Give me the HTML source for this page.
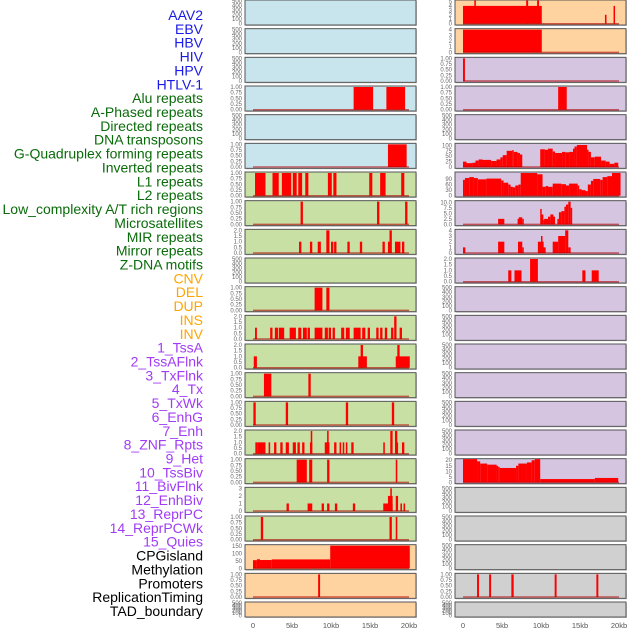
<!DOCTYPE html>
<html><head><meta charset="utf-8">
<style>
html,body{margin:0;padding:0;background:#fff;}
svg{display:block;font-family:"Liberation Sans",sans-serif;}
</style></head>
<body>
<svg id="chart" width="630" height="630" viewBox="0 0 630 630" xmlns="http://www.w3.org/2000/svg"></svg>
<script>
// ---- labels ----
const labelNames = ["AAV2","EBV","HBV","HIV","HPV","HTLV-1","Alu repeats","A-Phased repeats","Directed repeats","DNA transposons","G-Quadruplex forming repeats","Inverted repeats","L1 repeats","L2 repeats","Low_complexity A/T rich regions","Microsatellites","MIR repeats","Mirror repeats","Z-DNA motifs","CNV","DEL","DUP","INS","INV","1_TssA","2_TssAFlnk","3_TxFlnk","4_Tx","5_TxWk","6_EnhG","7_Enh","8_ZNF_Rpts","9_Het","10_TssBiv","11_BivFlnk","12_EnhBiv","13_ReprPC","14_ReprPCWk","15_Quies","CPGisland","Methylation","Promoters","ReplicationTiming","TAD_boundary"];
const labelGroups = [6,13,5,15,5];
const groupColors = ["#1a1ae6","#0a6b0a","#ffa500","#a03cf5","#000000"];

// ---- x axis ----
const xTicks = [0,5,10,15,20];
const xTickLabels = ["0","5kb","10kb","15kb","20kb"];

// ---- y tick sets ----
const tEmpty = [0,100,200,300,400,500];
const t01 = [0,0.25,0.5,0.75,1];
const t01Lab = ["0.00","0.25","0.50","0.75","1.00"];
const t02 = [0,0.5,1,1.5,2];
const t02Lab = ["0.0","0.5","1.0","1.5","2.0"];
const t03 = [0,1,2,3];
const t04 = [0,1,2,3,4];
const t05 = [0,1,2,3,4,5];
const t100 = [0,25,50,75,100];
const t90 = [0,30,60,90];
const t10 = [0,2.5,5,7.5,10];
const t10Lab = ["0.0","2.5","5.0","7.5","10.0"];
const t20 = [0,5,10,15,20];
const t150 = [0,50,100,150];

// ---- left column data: [startKb, endKb, value] ----
const L3 = [[12.9,15.4,1],[17.1,19.5,1]];
const L5 = [[17.3,19.7,1]];
const L6 = [[0.26,1.6,1],[2.5,3.3,1],[3.7,4.9,1],[5.1,5.6,1],[5.8,6.3,1],[6.7,7.1,1],[9.6,10.1,1],[10.3,10.7,1],[14.9,15.3,1],[16.3,17.0,1],[19.0,19.4,1]];
const L7 = [[6.1,6.4,1],[15.9,16.2,1],[19.5,19.8,1]];
const L8 = [[5.9,6.2,1],[7.3,7.6,1],[8.3,8.7,1],[9.4,9.8,2],[10.0,10.3,1],[10.4,10.7,1],[12.1,12.4,1],[13.7,14.0,1],[16.6,16.9,1],[17.3,17.7,1],[17.5,17.8,2],[18.2,18.9,1],[19.1,19.4,1]];
const L10 = [[7.9,8.9,1],[9.4,9.8,1]];
const L11 = [[0.26,0.5,1],[2.2,2.5,1],[2.8,3.2,1],[3.3,4.0,1],[4.7,5.5,1],[5.8,6.2,1],[6.4,6.9,1],[7.0,7.3,1],[7.9,8.9,1],[9.2,9.6,1],[9.7,10.0,1],[10.2,10.5,1],[11.3,11.7,1],[11.9,12.4,1],[12.9,13.8,1],[14.0,14.4,1],[14.7,15.0,1],[15.8,16.1,1],[16.3,16.6,1],[16.9,17.2,1],[17.7,18.0,1],[18.1,18.4,2],[18.8,19.1,1]];
const L12 = [[0.1,0.5,1],[13.5,14.6,1],[13.8,14.1,2],[18.3,20.1,1],[18.5,18.8,2]];
const L13 = [[1.4,2.35,1],[7.1,7.4,1]];
const L14 = [[0.05,0.35,1],[4.2,4.5,1],[11.9,12.2,1],[17.8,18.1,1]];
const L15 = [[0.3,0.6,1],[0.6,1.6,1],[2.0,2.2,1],[2.7,3.0,1],[3.5,3.8,1],[4.2,4.6,1],[5.1,5.5,1],[5.7,6.0,1],[6.3,6.6,1],[7.3,7.6,1],[7.4,7.6,2],[9.2,9.8,1],[9.5,9.7,2],[10.4,10.7,1],[11.1,11.3,1],[11.5,11.7,1],[11.9,12.1,1],[12.6,12.9,1],[16.7,16.9,1],[17.6,17.9,2],[18.2,18.5,2],[18.3,18.6,1],[19.1,19.4,1]];
const L16 = [[5.6,6.9,1],[7.2,7.6,1],[9.5,9.8,1],[18.3,18.5,1]];
const L17 = [[4.3,4.6,1],[7.0,7.6,1],[8.8,9.1,1],[9.5,9.8,1],[10.5,10.8,1],[12.8,13.1,1],[16.7,17.9,1],[17.3,17.9,2],[17.6,17.8,3],[18.3,18.6,2],[18.9,19.1,1],[19.3,19.5,1]];
const L18 = [[1.0,1.3,1],[17.5,17.8,1],[18.3,18.5,1]];
const L19 = [[0,0.5,55],[0.5,0.9,61],[0.9,2.4,56],[2.4,9.9,60],[9.9,20.1,152]];
const L20 = [[8.35,8.6,1]];

// ---- right column data ----
const R0 = [[0,10.1,4],[1.45,1.65,5.2],[8.1,8.35,5.2],[9.5,9.75,5.2],[18.2,18.4,2],[19.3,19.45,4]];
const R1 = [[0,10.1,4]];
const R2 = [[0,0.25,1]];
const R3 = [[12.2,13.3,1]];
const R5 = [[0,0.45,25],[0.45,1.2,18],[1.2,1.6,20],[1.6,2.0,30],[2.0,2.5,35],[2.5,3.6,33],[3.6,4.3,28],[4.3,4.8,35],[4.8,5.1,45],[5.1,5.6,55],[5.6,6.3,75],[6.3,6.5,78],[6.5,7.0,70],[7.0,7.3,65],[7.3,7.6,58],[9.9,10.5,82],[10.5,10.9,80],[10.9,11.5,85],[11.5,11.8,72],[11.8,12.7,65],[12.7,13.1,70],[13.1,13.6,68],[13.6,14.1,70],[14.1,14.3,85],[14.3,14.6,95],[14.6,15.9,102],[15.9,16.1,80],[16.1,16.4,70],[16.4,16.9,45],[16.9,17.7,48],[17.7,18.3,30],[18.3,18.8,25],[18.8,19.4,15],[19.4,19.9,20]];
const R6 = [[0,0.25,85],[0.25,0.8,95],[0.8,1.4,100],[1.4,1.9,95],[1.9,3.0,88],[3.0,4.9,92],[4.9,5.2,82],[5.2,5.8,70],[5.8,6.1,60],[6.1,6.4,48],[6.4,6.7,45],[6.7,7.1,55],[7.1,7.4,60],[7.4,9.5,122],[9.5,10.2,115],[10.2,10.6,48],[10.6,10.9,52],[10.9,11.5,48],[11.5,12.6,65],[12.6,13.2,62],[13.2,13.6,55],[13.6,14.7,65],[14.7,14.9,55],[14.9,15.2,35],[15.2,15.7,30],[15.7,16.0,25],[16.0,16.4,60],[16.4,16.7,80],[16.7,17.6,90],[17.6,17.9,85],[17.9,18.5,100],[18.5,19.1,105],[19.1,20.2,122]];
const R7 = [[4.5,5.3,2.5],[7.0,7.15,2.5],[7.15,7.6,3.2],[7.6,7.75,2.5],[9.9,10.0,7],[10.0,10.3,4.5],[10.3,10.4,2],[10.4,10.9,2.5],[10.9,11.2,3.5],[11.2,11.6,4.5],[11.6,11.8,3.5],[12.1,12.3,2.5],[12.3,12.6,5.5],[12.6,13.0,6],[13.0,13.2,8],[13.2,13.5,9],[13.5,13.8,10.3],[13.8,14.0,7.5]];
const R8 = [[0,0.3,1],[4.5,5.3,2],[7.05,7.6,2],[7.6,7.75,1],[9.6,10.0,2],[10.0,10.15,3],[10.15,10.3,2],[10.3,10.6,1],[11.5,12.2,2],[12.2,13.1,3],[13.1,13.5,4],[13.5,13.8,1]];
const R9 = [[5.8,6.2,1],[6.6,7.5,1],[8.6,9.6,2],[15.3,15.7,1],[16.5,17.4,1]];
const R16 = [[0,1.8,21],[1.8,2.2,19],[2.2,3.1,17],[3.1,4.3,16],[4.3,4.5,15],[4.5,4.7,14],[4.7,6.8,13],[6.8,7.1,15],[7.1,8.2,17],[8.2,8.8,18],[8.8,9.2,20],[9.2,9.9,21],[9.9,16.9,3],[16.9,19.9,4]];
const R20 = [[1.8,2.05,1],[3.35,3.6,1],[6.2,6.5,1],[11.75,12.0,1],[17.1,17.35,1]];

const bgBlue="#c8e4ec", bgGreen="#c9e0a5", bgOrange="#ffd3a0", bgPurple="#d5c5e1", bgGray="#d0d0d0";

// panels: [row, data, ymax, ticks, tickLabels, bg]
const leftPanels = [
 [0,null,500,tEmpty,null,bgBlue],[1,null,500,tEmpty,null,bgBlue],[2,null,500,tEmpty,null,bgBlue],
 [3,L3,1,t01,t01Lab,bgBlue],[4,null,500,tEmpty,null,bgBlue],[5,L5,1,t01,t01Lab,bgBlue],
 [6,L6,1,t01,t01Lab,bgGreen],[7,L7,1,t01,t01Lab,bgGreen],[8,L8,2,t02,t02Lab,bgGreen],
 [9,null,500,tEmpty,null,bgGreen],[10,L10,1,t01,t01Lab,bgGreen],[11,L11,2,t02,t02Lab,bgGreen],
 [12,L12,2,t02,t02Lab,bgGreen],[13,L13,1,t01,t01Lab,bgGreen],[14,L14,1,t01,t01Lab,bgGreen],
 [15,L15,2,t02,t02Lab,bgGreen],[16,L16,1,t01,t01Lab,bgGreen],[17,L17,3,t03,null,bgGreen],
 [18,L18,1,t01,t01Lab,bgGreen],[19,L19,152,t150,null,bgOrange],[20,L20,1,t01,t01Lab,bgOrange],
 [21,null,500,tEmpty,null,bgOrange]
];
const rightPanels = [
 [0,R0,5.1,t05,null,bgOrange],[1,R1,4,t04,null,bgOrange],[2,R2,1,t01,t01Lab,bgPurple],
 [3,R3,1,t01,t01Lab,bgPurple],[4,null,500,tEmpty,null,bgPurple],[5,R5,105,t100,null,bgPurple],
 [6,R6,122,t90,null,bgPurple],[7,R7,10.3,t10,t10Lab,bgPurple],[8,R8,4,t04,null,bgPurple],
 [9,R9,2,t02,t02Lab,bgPurple],[10,null,500,tEmpty,null,bgPurple],[11,null,500,tEmpty,null,bgPurple],
 [12,null,500,tEmpty,null,bgPurple],[13,null,500,tEmpty,null,bgPurple],[14,null,500,tEmpty,null,bgPurple],
 [15,null,500,tEmpty,null,bgPurple],[16,R16,20.5,t20,null,bgPurple],[17,null,500,tEmpty,null,bgGray],
 [18,null,500,tEmpty,null,bgGray],[19,null,500,tEmpty,null,bgGray],[20,R20,1,t01,t01Lab,bgGray],
 [21,null,500,tEmpty,null,bgGray]
];

const NS="http://www.w3.org/2000/svg";
const svg=document.getElementById('chart');
function mk(tag,attrs,parent){const e=document.createElementNS(NS,tag);for(const k in attrs)e.setAttribute(k,attrs[k]);(parent||svg).appendChild(e);return e;}

function rowTop(i){return i*28.667;}
function rowH(i){return i===21?15:25;}

// labels
let li=0;
labelGroups.forEach((n,g)=>{
  for(let k=0;k<n;k++){
    const t=mk('text',{x:203,y:20+li*13.86,'text-anchor':'end','font-size':'14',fill:groupColors[g]});
    
    
    t.textContent=labelNames[li];li++;
  }
});

function drawCol(panels,px,side){
  const pw=171;
  const x0=px+8, scale=7.8;
  const xs=kb=>x0+kb*scale;
  panels.forEach(p=>{
    const [row,data,ymax,ticks,tl,bg]=p;
    const top=rowTop(row), h=rowH(row);
    const yTop=top+1, yBot=top+h-1.3;
    const ys=v=>yBot-(v/ymax)*(yBot-yTop);
    const g=mk('g',{});
    
    
    mk('rect',{x:px+1,y:top+1,width:pw,height:h,fill:'#999','opacity':0.5},g);
    const bgR=mk('rect',{x:px,y:top,width:pw,height:h,fill:bg,stroke:'#555','stroke-width':1},g);
    
    
    if(data){
      data.forEach(d=>{
        const r=mk('rect',{x:xs(d[0]),y:Math.max(top,ys(d[2])),width:Math.max(1.5,xs(d[1])-xs(d[0])),height:yBot-Math.max(top,ys(d[2])),fill:'#ff0000'},g);
        
        
      });
      const bl=mk('line',{x1:xs(0),x2:xs(20),y1:yBot,y2:yBot,stroke:'#b00000','stroke-opacity':0.6,'stroke-width':1.5},g);
      
      
    }
    ticks.forEach((v,k)=>{
      const t=mk('text',{x:px-3,y:ys(v)+2,'text-anchor':'end','font-size':'6',fill:'#666'},g);
      
      
      t.textContent=tl?tl[k]:String(v);
    });
  });
  xTicks.forEach((v,k)=>{
    const t=mk('text',{x:xs(v),y:628,'text-anchor':'middle','font-size':'7.5',fill:'#555'});
    
    
    t.textContent=xTickLabels[k];
  });
}
drawCol(leftPanels,245,'left');
drawCol(rightPanels,455,'right');
</script>
</body></html>
